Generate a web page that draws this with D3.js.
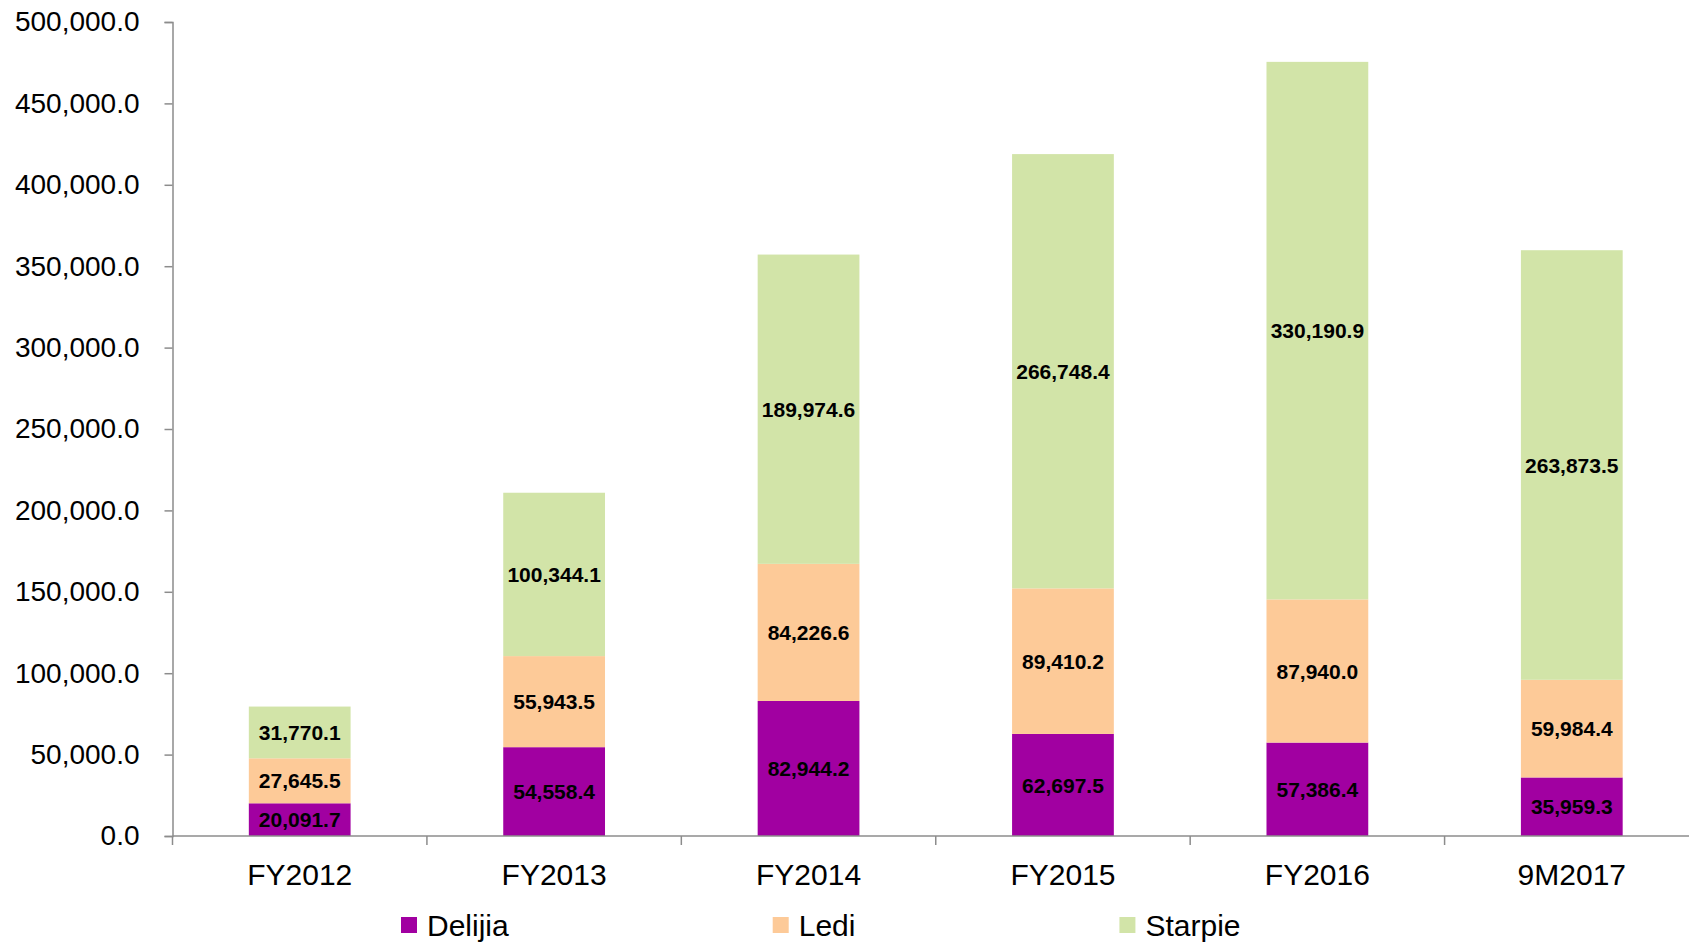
<!DOCTYPE html>
<html>
<head>
<meta charset="utf-8">
<script src="https://cdn.jsdelivr.net/npm/d3@7/dist/d3.min.js"></script>
<style>
  body { margin: 0; background: #fff; }
  svg { display: block; font-family: "Liberation Sans", Arial, sans-serif; }
  .axis path, .axis line { stroke: #8c8c8c; stroke-width: 1.5px; }
</style>
</head>
<body>
<svg id="chart" width="1689" height="944"></svg>
<script>
// chart values
const categories = ['FY2012', 'FY2013', 'FY2014', 'FY2015', 'FY2016', '9M2017'];
const seriesNames = ['Delijia', 'Ledi', 'Starpie'];
const delijia = [20091.7, 54558.4, 82944.2, 62697.5, 57386.4, 35959.3];
const ledi = [27645.5, 55943.5, 84226.6, 89410.2, 87940.0, 59984.4];
const starpie = [31770.1, 100344.1, 189974.6, 266748.4, 330190.9, 263873.5];
const yTicks = [0, 50000, 100000, 150000, 200000, 250000, 300000, 350000, 400000, 450000, 500000];

const colors = ['#a100a1', '#fdca98', '#d2e4a8'];

const svg = d3.select('#chart');
const plotLeft = 172.5, plotRight = 1699, plotTop = 22, plotBottom = 836;

// table for the stack
const table = categories.map((c, i) => ({cat: c, Delijia: delijia[i], Ledi: ledi[i], Starpie: starpie[i]}));
const stacked = d3.stack().keys(seriesNames)(table);

const x = d3.scaleBand()
    .domain(categories)
    .range([plotLeft, plotRight])
    .paddingInner(0.6)
    .paddingOuter(0.3);

const y = d3.scaleLinear()
    .domain([0, 500000])
    .range([plotBottom, plotTop]);

// bars
const layers = svg.append('g')
    .selectAll('g')
    .data(stacked)
    .join('g')
    .attr('fill', (d, i) => colors[i]);

layers.selectAll('rect')
    .data(d => d)
    .join('rect')
    .attr('x', d => x(d.data.cat))
    .attr('width', x.bandwidth())
    .attr('y', d => y(d[1]))
    .attr('height', d => y(d[0]) - y(d[1]));

// value labels
layers.selectAll('text')
    .data(d => d.map(v => ({v: v, key: d.key})))
    .join('text')
    .attr('x', d => x(d.v.data.cat) + x.bandwidth() / 2)
    .attr('y', d => (y(d.v[0]) + y(d.v[1])) / 2)
    .attr('dy', '0.36em')
    .attr('text-anchor', 'middle')
    .style('font-size', '21px')
    .style('font-weight', 'bold')
    .attr('fill', '#000')
    .text(d => d3.format(',.1f')(d.v.data[d.key]));

// y axis
const yAxis = svg.append('g')
    .attr('class', 'axis')
    .attr('transform', `translate(${plotLeft},0)`)
    .call(d3.axisLeft(y).tickValues(yTicks).tickFormat(d3.format(',.1f')).tickSize(8).tickPadding(25));
yAxis.selectAll('text').style('font-size', '28px').attr('fill', '#000');

// x axis: labels centred, ticks on the category boundaries
const xAxis = svg.append('g')
    .attr('class', 'axis')
    .attr('transform', `translate(0,${plotBottom})`)
    .call(d3.axisBottom(x).tickSize(0).tickPadding(28));
xAxis.select('.domain').attr('d', `M${plotLeft},0H${plotRight}`);
xAxis.selectAll('text').style('font-size', '30px').attr('fill', '#000');
xAxis.selectAll('line.boundary')
    .data(d3.range(categories.length + 1))
    .join('line')
    .attr('class', 'boundary')
    .attr('x1', i => plotLeft + i * x.step())
    .attr('x2', i => plotLeft + i * x.step())
    .attr('y1', 0)
    .attr('y2', 9);

// legend
const legend = svg.append('g').attr('transform', 'translate(0,925)');
let lx = 401;
seriesNames.forEach((name, i) => {
    legend.append('rect')
        .attr('x', lx)
        .attr('y', -8)
        .attr('width', 16)
        .attr('height', 16)
        .attr('fill', colors[i]);
    const t = legend.append('text')
        .attr('x', lx + 26)
        .attr('dy', '0.36em')
        .style('font-size', '30px')
        .attr('fill', '#000')
        .text(name);
    lx = lx + 26 + t.node().getComputedTextLength() + 264;
});
</script>
</body>
</html>
